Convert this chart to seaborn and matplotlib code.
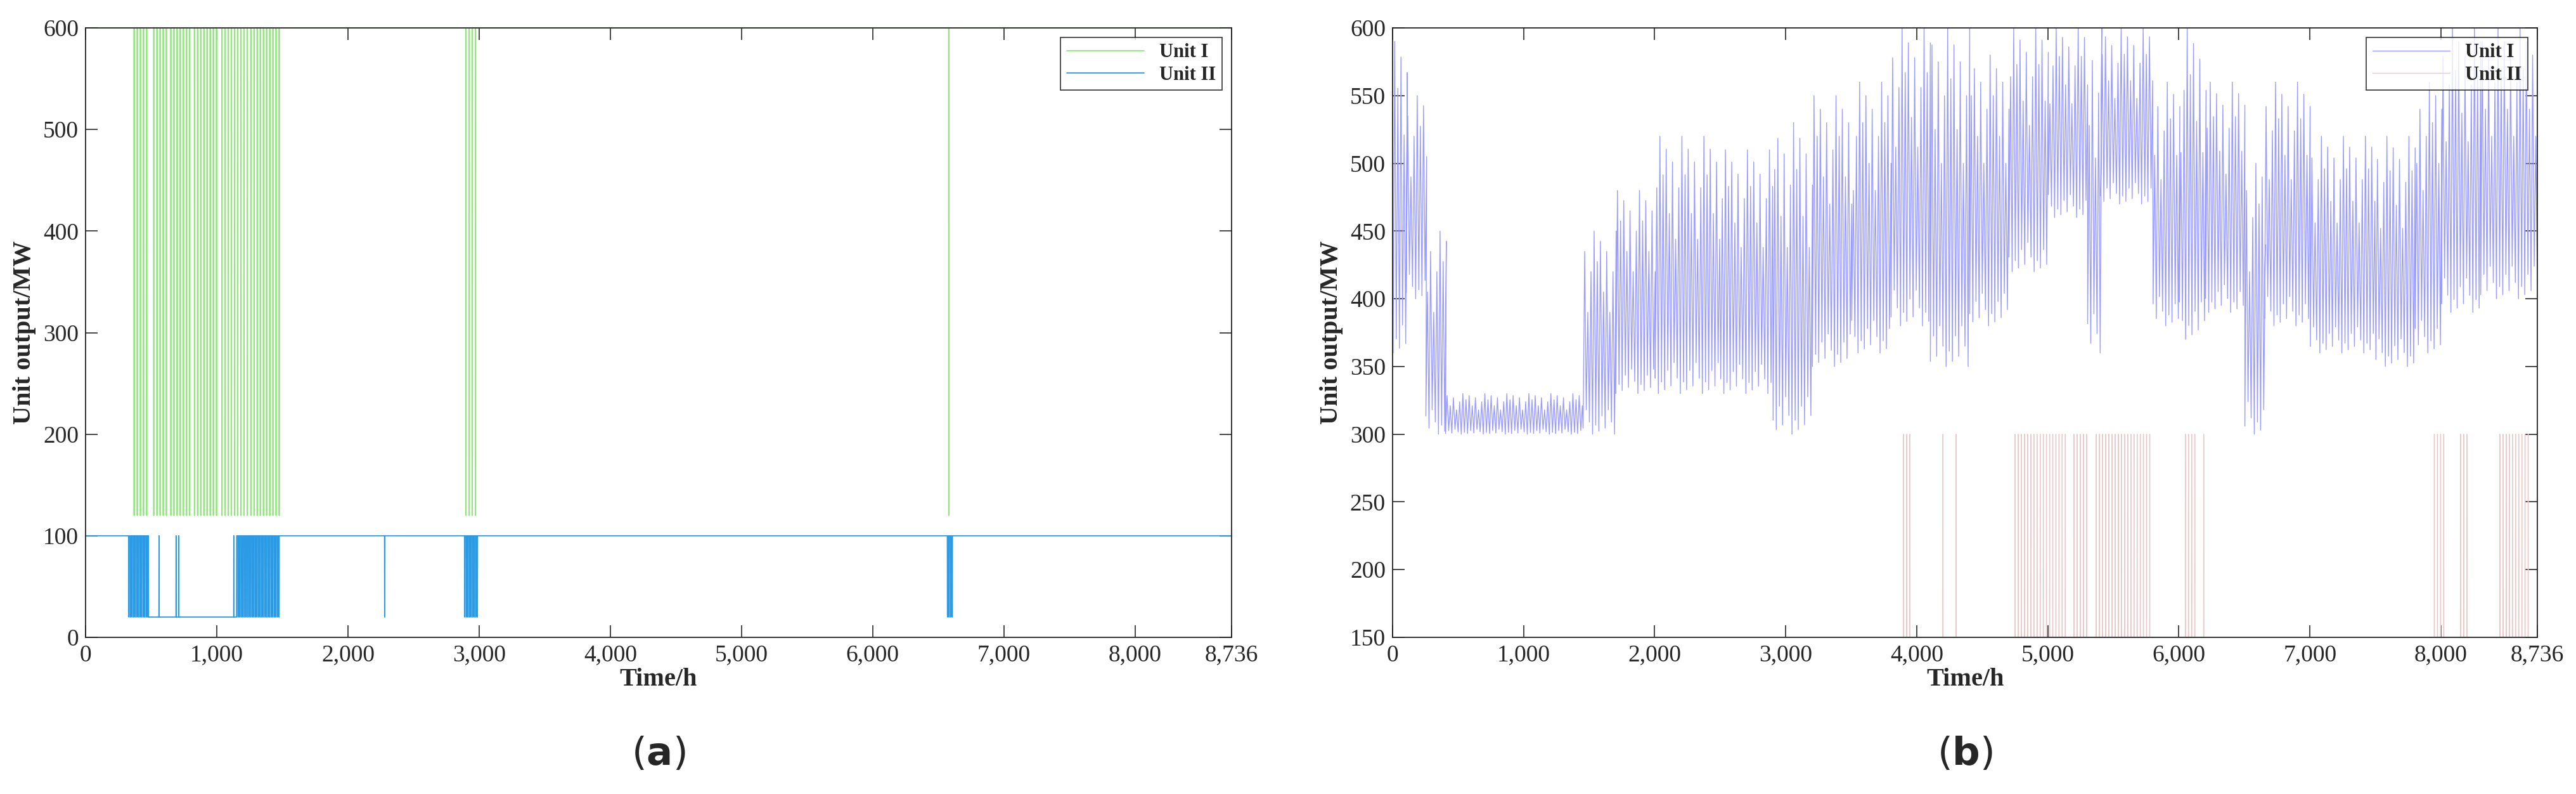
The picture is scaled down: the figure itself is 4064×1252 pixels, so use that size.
import numpy as np
import pandas as pd
import matplotlib
matplotlib.use("Agg")
import matplotlib.pyplot as plt
import seaborn as sns
from matplotlib.ticker import FuncFormatter

sns.set_theme(style="white")
plt.rcParams['font.family'] = ['Liberation Serif', 'DejaVu Serif']

HOURS = 8736
# ---------- (a) data ----------
a_u1_base, a_u1_low = 600, 120
a_u1_dip_intervals = [(370, 480), (520, 620), (650, 800), (830, 1000), (1040, 1250), (1260, 1480), (2900, 2980), (6580, 6600)]
a_u1_dip_depths = [120, 120, 120, 120, 120, 120, 120, 120]
a_u2_base, a_u2_low = 100, 20
a_u2_dip_intervals = [(330, 480), (1150, 1480), (2280, 2290), (2890, 2990), (6570, 6610)]
a_u2_low_block = (480, 1150)
a_u2_block_spikes = [560, 690, 710, 1130]

# ---------- (b) data: segment envelopes (start, end, daily low, daily high) ----------
b_seg_start = [0, 100, 250, 400, 1450, 1700, 2000, 2500, 2900, 3200, 3500, 3800, 4100, 4400, 4700, 5000, 5300, 5400, 5800, 6000, 6200, 6500, 6650, 7000, 7500, 7800, 8000, 8300]
b_seg_end = b_seg_start[1:] + [8736]
b_seg_low = [360, 400, 300, 300, 300, 330, 330, 330, 300, 350, 360, 380, 350, 380, 420, 460, 360, 470, 380, 370, 390, 300, 380, 360, 350, 360, 390, 400]
b_seg_high = [590, 550, 450, 330, 450, 480, 520, 510, 530, 550, 560, 600, 600, 580, 600, 600, 600, 600, 560, 600, 560, 500, 560, 520, 520, 560, 600, 600]
b_week_pattern = [1.0, 0.85, 0.95, 0.7, 0.9, 0.6, 0.8]
b_u2_base, b_u2_high = 150, 300
b_u2_intervals = [(3900, 3960), (4200, 4210), (4300, 4310), (4750, 5150), (5200, 5300), (5370, 5800), (6050, 6130), (6190, 6200), (7950, 8030), (8150, 8200), (8450, 8680)]

t = np.arange(HOURS + 1)

a1 = np.full(t.shape, float(a_u1_base))
for (s, e), d in zip(a_u1_dip_intervals, a_u1_dip_depths):
    for h in range(s, e, 24):
        a1[h] = d
a2 = np.full(t.shape, float(a_u2_base))
for s, e in a_u2_dip_intervals:
    for h in range(s, e, 12):
        a2[h:h + 2] = a_u2_low
a2[a_u2_low_block[0]:a_u2_low_block[1]] = a_u2_low
for h in a_u2_block_spikes:
    a2[h] = a_u2_base

bx, by = [], []
for s, e, lo, hi in zip(b_seg_start, b_seg_end, b_seg_low, b_seg_high):
    for d in range(s, e, 24):
        f = b_week_pattern[(d // 24) % 7]
        bx += [d + 4, d + 16]
        by += [lo + (1 - f) * 0.3 * (hi - lo), lo + f * (hi - lo)]
bx = np.clip(bx, 0, HOURS)
b2 = np.full(t.shape, float(b_u2_base))
for s, e in b_u2_intervals:
    for h in range(s, e, 24):
        b2[h] = b_u2_high

dfa1 = pd.DataFrame({"t": t, "v": a1})
dfa2 = pd.DataFrame({"t": t, "v": a2})
dfb1 = pd.DataFrame({"t": bx, "v": by})
dfb2 = pd.DataFrame({"t": t, "v": b2})

fig = plt.figure(figsize=(40.64, 12.52), dpi=100)
axA = fig.add_axes([135 / 4064, 1 - 1005 / 1252, (1943 - 135) / 4064, (1005 - 44) / 1252])
axB = fig.add_axes([2197 / 4064, 1 - 1005 / 1252, (4003 - 2197) / 4064, (1005 - 44) / 1252])

sns.lineplot(data=dfa1, x="t", y="v", ax=axA, color="#8ee87a", lw=1.3, label="Unit I", estimator=None, sort=False)
sns.lineplot(data=dfa2, x="t", y="v", ax=axA, color="#2b9be6", lw=1.3, label="Unit II", estimator=None, sort=False)
sns.lineplot(data=dfb1, x="t", y="v", ax=axB, color="#9a9cff", lw=1.0, label="Unit I", estimator=None, sort=False)
sns.lineplot(data=dfb2, x="t", y="v", ax=axB, color="#e8caca", lw=1.0, label="Unit II", estimator=None, sort=False)

fmt = FuncFormatter(lambda v, p: f"{int(v):,}")
for ax, ylim, yt, lab in [(axA, (0, 600), np.arange(0, 601, 100), r"($\mathbf{a}$)"),
                          (axB, (150, 600), np.arange(150, 601, 50), r"($\mathbf{b}$)")]:
    ax.set_xlim(0, HOURS)
    ax.set_ylim(*ylim)
    ax.set_xticks(list(range(0, 8001, 1000)) + [HOURS])
    ax.set_yticks(yt)
    ax.xaxis.set_major_formatter(fmt)
    ax.tick_params(direction="in", length=14, width=1.2, labelsize=27, top=True, right=True,
                   bottom=True, left=True, pad=8)
    for sp in ax.spines.values():
        sp.set_color("#222222")
        sp.set_linewidth(1.3)
    ax.set_xlabel("Time/h", fontsize=29, fontweight="bold", labelpad=2)
    ax.set_ylabel("Unit output/MW", fontsize=29, fontweight="bold", labelpad=8)
    leg = ax.legend(loc="upper right", frameon=True, fancybox=False,
                    prop={"weight": "bold", "size": 22}, borderpad=0.3, handlelength=4,
                    labelspacing=0.2)
    leg.get_frame().set_edgecolor("black")
    leg.get_frame().set_linewidth(1.2)
    fig.text((ax.get_position().x0 + ax.get_position().x1) / 2, 1 - 1190 / 1252, lab,
             ha="center", va="center", fontsize=44, family=["DejaVu Sans"])

fig.savefig("out.png", dpi=100)
